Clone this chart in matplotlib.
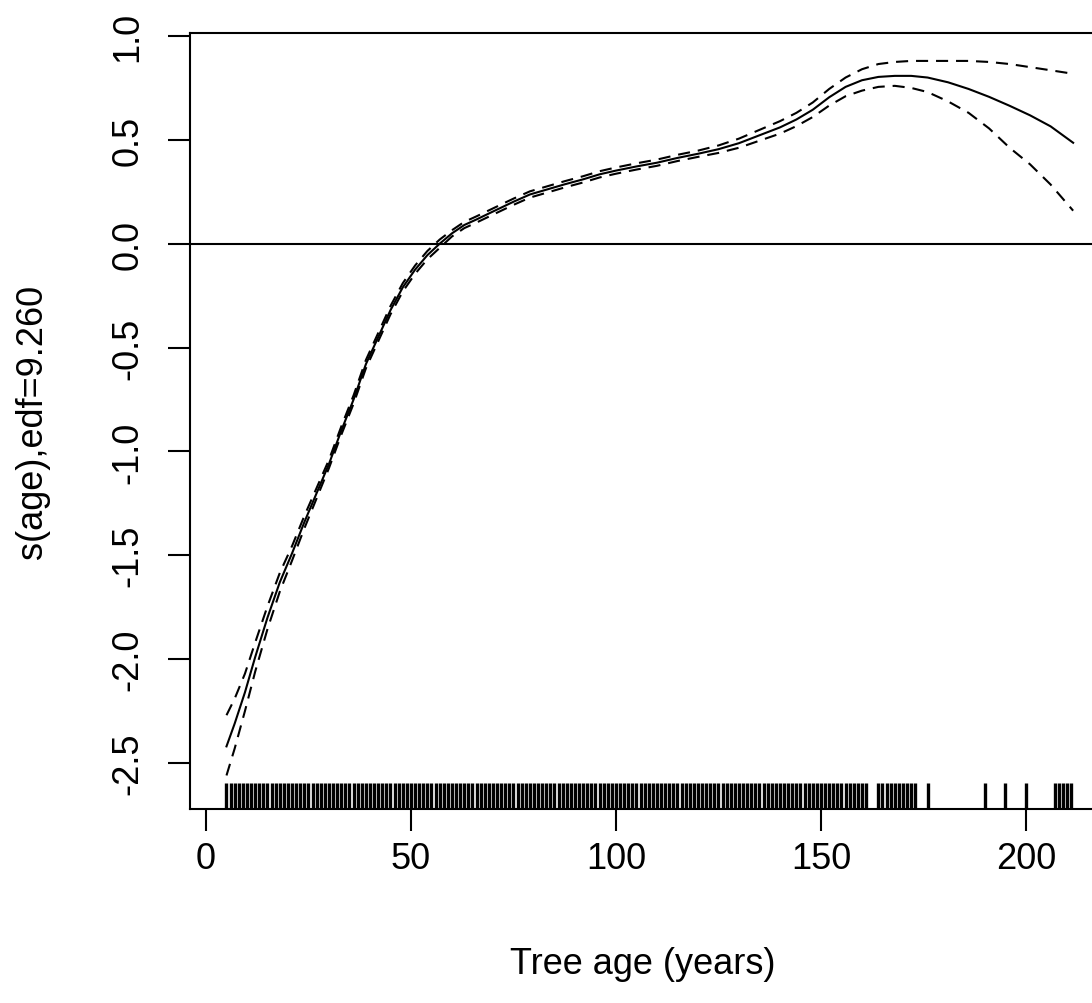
import matplotlib
matplotlib.use("Agg")
import matplotlib.pyplot as plt

plt.rcParams["font.family"] = ["Liberation Sans", "DejaVu Sans"]

# fitted smooth s(age) and its +/- 2 se band
AGE = [5, 7, 9.5, 12, 15, 18, 21, 24, 27, 30, 33, 36, 39, 42, 45, 48, 51, 54,
       57, 60, 63, 66, 70, 75, 79, 83, 87.5, 92, 96, 100, 105, 110, 115, 120,
       125, 130, 135, 140, 144, 148, 152, 156, 160, 164, 168, 172, 176, 181,
       186, 191, 196, 201, 206, 211.5]
FIT = [-2.42, -2.31, -2.16, -1.99, -1.80, -1.63, -1.49, -1.34, -1.20, -1.06,
       -0.90, -0.75, -0.58, -0.45, -0.32, -0.21, -0.125, -0.055, 0.0, 0.05,
       0.09, 0.117, 0.155, 0.202, 0.237, 0.26, 0.286, 0.31, 0.334, 0.352,
       0.372, 0.39, 0.413, 0.433, 0.455, 0.484, 0.522, 0.56, 0.598, 0.645,
       0.705, 0.755, 0.787, 0.803, 0.808, 0.808, 0.800, 0.777, 0.745, 0.707,
       0.664, 0.618, 0.565, 0.486]
UPPER = [-2.27, -2.19, -2.07, -1.92, -1.745, -1.585, -1.455, -1.31, -1.175,
         -1.04, -0.88, -0.73, -0.56, -0.43, -0.30, -0.19, -0.105, -0.035, 0.02,
         0.065, 0.105, 0.132, 0.17, 0.217, 0.252, 0.275, 0.301, 0.325, 0.349,
         0.367, 0.387, 0.405, 0.428, 0.448, 0.473, 0.506, 0.548, 0.59, 0.63,
         0.68, 0.745, 0.80, 0.84, 0.865, 0.875, 0.88, 0.88, 0.88, 0.88, 0.875,
         0.865, 0.85, 0.835, 0.818]
LOWER = [-2.56, -2.43, -2.25, -2.06, -1.855, -1.675, -1.525, -1.37, -1.225,
         -1.08, -0.92, -0.77, -0.60, -0.47, -0.34, -0.23, -0.145, -0.075,
         -0.02, 0.035, 0.075, 0.102, 0.14, 0.187, 0.222, 0.245, 0.271, 0.295,
         0.319, 0.337, 0.357, 0.375, 0.398, 0.418, 0.437, 0.462, 0.496, 0.53,
         0.566, 0.61, 0.665, 0.71, 0.737, 0.755, 0.76, 0.75, 0.73, 0.685, 0.63,
         0.555, 0.462, 0.382, 0.285, 0.159]

# observed tree ages (rug)
RUG = [5, 6, 7, 8, 9, 10, 11, 12, 13, 14, 15, 16, 17, 18, 19, 20, 21, 22, 23,
       24, 25, 26, 27, 28, 29, 30, 31, 32, 33, 34, 35, 36, 37, 38, 39, 40, 41,
       42, 43, 44, 45, 46, 47, 48, 49, 50, 51, 52, 53, 54, 55, 56, 57, 58, 59,
       60, 61, 62, 63, 64, 65, 66, 67, 68, 69, 70, 71, 72, 73, 74, 75, 76, 77,
       78, 79, 80, 81, 82, 83, 84, 85, 86, 87, 88, 89, 90, 91, 92, 93, 94, 95,
       96, 97, 98, 99, 100, 101, 102, 103, 104, 105, 106, 107, 108, 109, 110,
       111, 112, 113, 114, 115, 116, 117, 118, 119, 120, 121, 122, 123, 124,
       125, 126, 127, 128, 129, 130, 131, 132, 133, 134, 135, 136, 137, 138,
       139, 140, 141, 142, 143, 144, 145, 146, 147, 148, 149, 150, 151, 152,
       153, 154, 155, 156, 157, 158, 159, 160, 161, 164, 165, 166, 167, 168,
       169, 170, 171, 172, 173, 176, 190, 195, 200, 207, 208, 209, 210, 211]

X_TICKS = [0, 50, 100, 150, 200]
Y_TICKS = [-2.5, -2.0, -1.5, -1.0, -0.5, 0.0, 0.5, 1.0]
Y_LABELS = ["-2.5", "-2.0", "-1.5", "-1.0", "-0.5", "0.0", "0.5", "1.0"]

FS = 26
LW = 1.5

fig = plt.figure(figsize=(10.92, 10.04), dpi=100)
ax = fig.add_axes([190 / 1092, 194 / 1004, 910 / 1092, 776 / 1004])
ax.set_xlim(-3.9, 218.05)
ax.set_ylim(-2.7215, 1.0144)

ax.plot(AGE, FIT, color="black", lw=LW)
ax.plot(AGE, UPPER, color="black", lw=LW, dashes=(5.8, 3.8))
ax.plot(AGE, LOWER, color="black", lw=LW, dashes=(5.8, 3.8))
ax.axhline(0, color="black", lw=LW)

rug_top = -2.7215 + 26 / 207.7
ax.vlines(RUG, -2.7215, rug_top, color="black", lw=2.4)

for s in ax.spines.values():
    s.set_linewidth(LW)

ax.set_xticks(X_TICKS)
ax.set_xticklabels([str(t) for t in X_TICKS])
ax.set_yticks(Y_TICKS)
ax.set_yticklabels(Y_LABELS, rotation=90, va="center")
ax.tick_params(axis="both", length=15.5, width=LW, labelsize=FS)
ax.tick_params(axis="x", pad=7.5)
ax.tick_params(axis="y", pad=16.5)

fig.text(643 / 1092, 1 - 965 / 1004, "Tree age (years)", ha="center",
         va="center", fontsize=FS)
fig.text(33 / 1092, 1 - 422 / 1004, "s(age),edf=9.260", ha="center",
         va="center", rotation=90, fontsize=FS)

fig.savefig("out.png", dpi=100)
